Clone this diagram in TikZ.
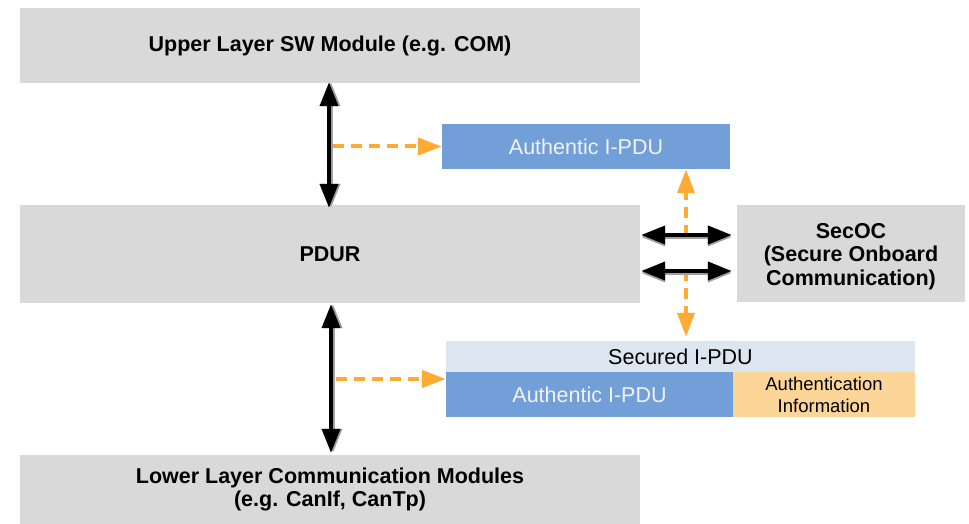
\documentclass[tikz,border=0pt]{standalone}
\usepackage{fontspec}
\setmainfont{Liberation Sans}
\usetikzlibrary{arrows.meta}
\definecolor{boxgray}{RGB}{217,217,217}
\definecolor{pdublue}{RGB}{114,159,216}
\definecolor{seclight}{RGB}{220,230,241}
\definecolor{infoorange}{RGB}{252,213,153}
\definecolor{arrorange}{RGB}{255,170,51}
\definecolor{shadowgray}{RGB}{160,160,160}
\tikzset{
  box/.style={fill=boxgray, draw=none, inner sep=0pt, align=center,
    font=\fontsize{21.5}{23.5}\selectfont\bfseries},
  bluebox/.style={fill=pdublue, draw=none, inner sep=0pt, align=center, text=white!95!black,
    font=\fontsize{21.5}{23}\selectfont},
  lightbox/.style={fill=seclight, draw=none, inner sep=0pt, align=center,
    font=\fontsize{21.5}{23}\selectfont},
  infobox/.style={fill=infoorange, draw=none, inner sep=0pt, align=center,
    font=\fontsize{18.5}{22}\selectfont},
  blk/.style={line width=4pt, black, {Triangle[length=24pt,width=18pt]}-{Triangle[length=24pt,width=18pt]}},
  blkshadow/.style={blk, shadowgray, xshift=2pt, yshift=-2pt},
  orng/.style={line width=4pt, arrorange, dash pattern=on 11pt off 7pt, -{Triangle[length=24pt,width=17pt]}},
}
\begin{document}
\begin{tikzpicture}[x=1pt,y=-1pt]
\useasboundingbox (0,0) rectangle (969,524);
% boxes
\node[box, minimum width=620pt, minimum height=75pt] (up) at (330,45.5) {Upper Layer SW Module (e.g. COM)};
\node[box, minimum width=620pt, minimum height=98pt] (pdur) at (330,254) {PDUR};
\node[box, minimum width=620pt, minimum height=69pt] (low) at (330,489.5) {Lower Layer Communication Modules\\(e.g. CanIf, CanTp)};
\node[box, minimum width=228pt, minimum height=97pt] (sec) at (851,253.5) {};
\node[box, fill=none] (sectxt) at ([yshift=-3pt]sec.center) {SecOC\\(Secure Onboard\\Communication)};
\node[bluebox, minimum width=288pt, minimum height=45pt] (at) at (586,146.5) {Authentic I-PDU};
\node[lightbox, minimum width=469pt, minimum height=31pt] (sh) at (680.5,356.5) {Secured I-PDU};
\node[bluebox, minimum width=287pt, minimum height=45pt] (ab) at (589.5,394.5) {Authentic I-PDU};
\node[infobox, minimum width=182pt, minimum height=45pt] (ai) at (824,394.5) {Authentication\\Information};
% orange dashed arrows
\draw[orng] (333,0 |- at.west) -- (at.west);
\draw[orng] (686,236) -- (686,0 |- at.south);
\draw[orng] (686,270) -- ([yshift=4pt]686,0 |- sh.north);
\draw[orng] (336,379) -- (ab.west |- 0,379);
% black double arrows with shadow
\draw[blkshadow] ([yshift=1pt]329,0 |- up.south) -- ([yshift=-3pt]329,0 |- pdur.north);
\draw[blk] ([yshift=1pt]329,0 |- up.south) -- ([yshift=-3pt]329,0 |- pdur.north);
\draw[blkshadow] ([yshift=-1pt]331,0 |- pdur.south) -- ([yshift=2pt]331,0 |- low.north);
\draw[blk] ([yshift=-1pt]331,0 |- pdur.south) -- ([yshift=2pt]331,0 |- low.north);
\draw[blkshadow] ([xshift=1pt]pdur.east |- 0,235) -- ([xshift=-5pt]sec.west |- 0,235);
\draw[blk] ([xshift=1pt]pdur.east |- 0,235) -- ([xshift=-5pt]sec.west |- 0,235);
\draw[blkshadow] ([xshift=1pt]pdur.east |- 0,271) -- ([xshift=-5pt]sec.west |- 0,271);
\draw[blk] ([xshift=1pt]pdur.east |- 0,271) -- ([xshift=-5pt]sec.west |- 0,271);
\end{tikzpicture}
\end{document}
